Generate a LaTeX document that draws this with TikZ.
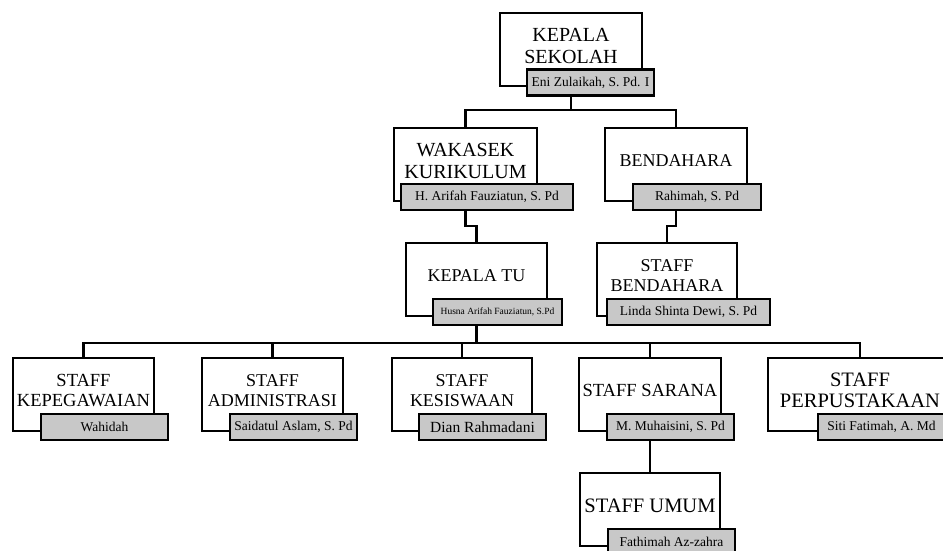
\documentclass[tikz,border=0pt]{standalone}
\usepackage{fontspec}
\setmainfont{Liberation Serif}
\definecolor{barfill}{RGB}{200,200,200}
\tikzset{
  frame/.style={draw, line width=2.4pt, fill=white, inner sep=0pt, minimum height=73},
  bar/.style={draw, line width=2.4pt, fill=barfill, inner sep=0pt, minimum height=26,
              font=\fontsize{13.5}{15}\selectfont},
  ttl/.style={align=center, inner sep=0pt, font=\fontsize{18}{19.5}\selectfont},
  ttlbig/.style={align=center, inner sep=0pt, font=\fontsize{20}{22}\selectfont},
  link/.style={line width=2.2pt},
}
\begin{document}
\begin{tikzpicture}[x=1pt,y=-1pt]
\useasboundingbox (0,0) rectangle (943,551);
% KEPALA SEKOLAH
\node[frame, minimum width=142] (ks) at (571,49.5) {};
\node[ttlbig] (kst) at (571,45.5) {KEPALA\\SEKOLAH};
\node[bar, minimum width=127] (ksn) at (590.5,82.5) {Eni Zulaikah, S. Pd. I};
% WAKASEK
\node[frame, minimum width=143] (wk) at (465.5,164.5) {};
\node[ttlbig] (wkt) at (465.5,160.5) {WAKASEK\\KURIKULUM};
\node[bar, minimum width=172] (wkn) at (487,197) {H. Arifah Fauziatun, S. Pd};
% BENDAHARA
\node[frame, minimum width=142] (bd) at (676,164.5) {};
\node[ttl] (bdt) at (676,160.5) {BENDAHARA};
\node[bar, minimum width=128] (bdn) at (697,197) {Rahimah, S. Pd};
% KEPALA TU
\node[frame, minimum width=141] (tu) at (476.5,279.5) {};
\node[ttl] (tut) at (476.5,275.5) {KEPALA TU};
\node[bar, minimum width=129, font=\fontsize{9.5}{11}\selectfont] (tun) at (497.5,312) {Husna Arifah Fauziatun, S.Pd};
% STAFF BENDAHARA
\node[frame, minimum width=140] (sb) at (667,279.5) {};
\node[ttl] (sbt) at (667,275.5) {STAFF\\BENDAHARA};
\node[bar, minimum width=163] (sbn) at (688.5,312) {Linda Shinta Dewi, S. Pd};
% bottom row
\node[frame, minimum width=141] (s1) at (83.5,394.5) {};
\node[ttl, font=\fontsize{18.5}{19.5}\selectfont] (s1t) at (83.5,390.5) {STAFF\\KEPEGAWAIAN};
\node[bar, minimum width=127] (s1n) at (104.5,427) {Wahidah};

\node[frame, minimum width=141] (s2) at (272.5,394.5) {};
\node[ttl] (s2t) at (272.5,390.5) {STAFF\\ADMINISTRASI};
\node[bar, minimum width=127] (s2n) at (293.5,427) {Saidatul Aslam, S. Pd};

\node[frame, minimum width=140] (s3) at (462,394.5) {};
\node[ttl] (s3t) at (462,390.5) {STAFF\\KESISWAAN};
\node[bar, minimum width=127, font=\fontsize{15.5}{17}\selectfont] (s3n) at (482.5,427) {Dian Rahmadani};

\node[frame, minimum width=142] (s4) at (650,394.5) {};
\node[ttl, font=\fontsize{18.5}{19.5}\selectfont] (s4t) at (650,390.5) {STAFF SARANA};
\node[bar, minimum width=127] (s4n) at (670.5,427) {M. Muhaisini, S. Pd};

\node[frame, minimum width=184] (s5) at (860,394.5) {};
\node[ttl, font=\fontsize{20.5}{21}\selectfont] (s5t) at (860,390.5) {STAFF\\PERPUSTAKAAN};
\node[bar, minimum width=127] (s5n) at (881.5,427) {Siti Fatimah, A. Md};

% STAFF UMUM
\node[frame, minimum width=140] (um) at (650,509.5) {};
\node[ttl, font=\fontsize{20.5}{22}\selectfont] (umt) at (650,505.5) {STAFF UMUM};
\node[bar, minimum width=127] (umn) at (671.5,542) {Fathimah Az-zahra};

% connectors
\draw[link] (ks.south |- ksn.south) -- ++(0,13) coordinate (j1);
\draw[link] (wk.north) |- (j1) -| (bd.north);
\draw[link] (wk.south |- wkn.south) -- ++(0,15) -| (tu.north);
\draw[link] (bd.south |- bdn.south) -- ++(0,15) -| (sb.north);
\draw[link] (tu.south |- tun.south) -- ++(0,17) coordinate (j2);
\draw[link] (s1.north) |- (j2) -| (s5.north);
\draw[link] (s2.north) -- (s2.north |- j2);
\draw[link] (s3.north) -- (s3.north |- j2);
\draw[link] (s4.north) -- (s4.north |- j2);
\draw[link] (s4.south |- s4n.south) -- (um.north);
\end{tikzpicture}
\end{document}
